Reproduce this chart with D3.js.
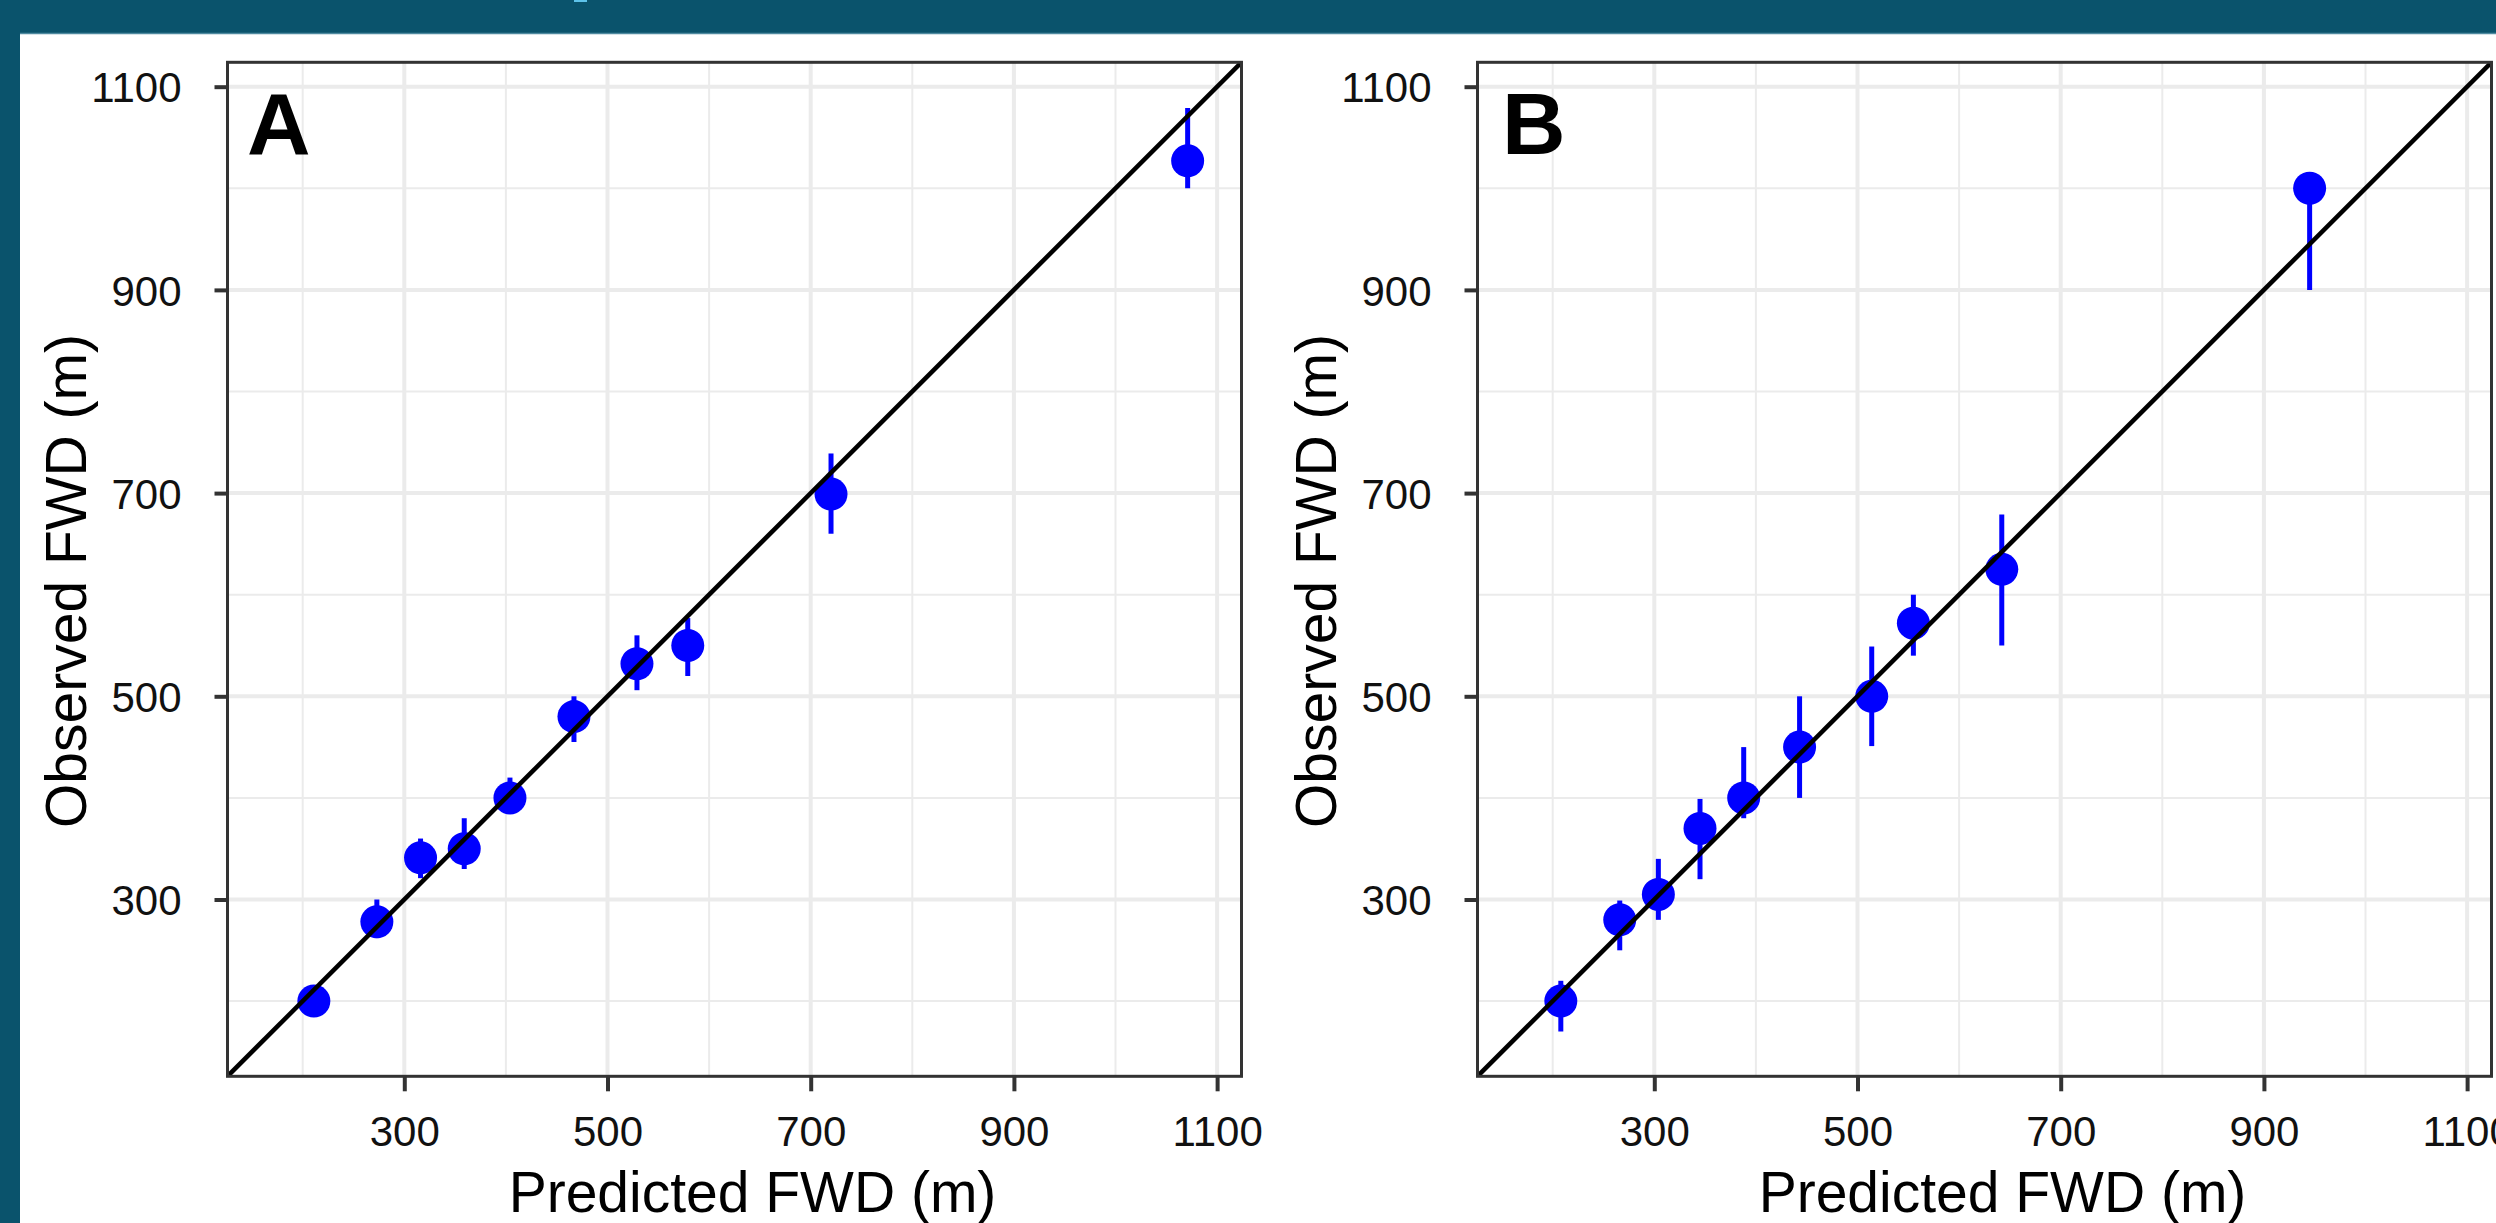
<!DOCTYPE html>
<html>
<head>
<meta charset="utf-8">
<script src="https://cdn.jsdelivr.net/npm/d3@7"></script>
<style>
  html, body { margin: 0; padding: 0; background: #0a536c; overflow: hidden; }
  svg { display: block; }
  text { font-family: "Liberation Sans", Arial, Helvetica, sans-serif; }
</style>
</head>
<body>
<svg id="chart" width="2496" height="1223"></svg>
<script>
// ---- data ----
const panelLabels = ["A", "B"];
const xTicks = [300, 500, 700, 900, 1100];
const yTicks = [300, 500, 700, 900, 1100];
const minorTicks = [200, 400, 600, 800, 1000];
const axisDomain = [126, 1124];
const xTitle = "Predicted FWD (m)";
const yTitle = "Observed FWD (m)";

const predA = [211, 273, 316, 359, 404, 467, 529, 579, 720, 1071];
const obsA  = [200, 278, 341, 350, 400, 480, 532, 550, 699, 1027];
const loA   = [196, 262, 321, 330, 385, 455, 506, 520, 660, 1000];
const hiA   = [204, 300, 360, 380, 420, 500, 560, 577, 739, 1079];

const predB = [208, 266, 304, 345, 388, 443, 514, 555, 642, 945];
const obsB  = [200, 280, 305, 370, 400, 450, 500, 572, 625, 1000];
const loB   = [170, 250, 280, 320, 380, 400, 451, 540, 550, 900];
const hiB   = [220, 299, 340, 399, 450, 500, 549, 600, 679, 1000];

// ---- layout ----
const W = 2496, H = 1223;
const svg = d3.select("#chart");
const panelSize = 1014;
const panels = [
  { label: panelLabels[0], left: 227.5, top: 62.3, pred: predA, obs: obsA, lo: loA, hi: hiA, labelX: 247 },
  { label: panelLabels[1], left: 1477.5, top: 62.3, pred: predB, obs: obsB, lo: loB, hi: hiB, labelX: 1502 }
];

// page frame
svg.append("rect").attr("x", 0).attr("y", 0).attr("width", W).attr("height", H).attr("fill", "#0a536c");
svg.append("rect").attr("x", 20).attr("y", 34).attr("width", W - 20).attr("height", H - 34).attr("fill", "#ffffff");
svg.append("line").attr("x1", 20).attr("x2", W).attr("y1", 33.5).attr("y2", 33.5)
  .attr("stroke", "#4f8aa0").attr("stroke-width", 1.5);
svg.append("rect").attr("x", 574).attr("y", 0).attr("width", 13).attr("height", 2).attr("fill", "#5ec3ea");

const x = d3.scaleLinear().domain(axisDomain).range([0, panelSize]);
const y = d3.scaleLinear().domain(axisDomain).range([panelSize, 0]);
const fmt = d3.format("d");

panels.forEach((p, i) => {
  const g = svg.append("g").attr("transform", `translate(${p.left},${p.top})`);
  const clipId = "clip" + i;
  g.append("clipPath").attr("id", clipId)
    .append("rect").attr("x", 0).attr("y", 0).attr("width", panelSize).attr("height", panelSize);

  g.append("rect").attr("width", panelSize).attr("height", panelSize).attr("fill", "#ffffff");

  // minor grid
  const grid = g.append("g");
  grid.selectAll(".vmin").data(minorTicks).join("line")
    .attr("x1", d => x(d)).attr("x2", d => x(d)).attr("y1", 0).attr("y2", panelSize)
    .attr("stroke", "#ebebeb").attr("stroke-width", 2);
  grid.selectAll(".hmin").data(minorTicks).join("line")
    .attr("y1", d => y(d)).attr("y2", d => y(d)).attr("x1", 0).attr("x2", panelSize)
    .attr("stroke", "#ebebeb").attr("stroke-width", 2);
  // major grid
  grid.selectAll(".vmaj").data(xTicks).join("line")
    .attr("x1", d => x(d)).attr("x2", d => x(d)).attr("y1", 0).attr("y2", panelSize)
    .attr("stroke", "#ebebeb").attr("stroke-width", 4);
  grid.selectAll(".hmaj").data(yTicks).join("line")
    .attr("y1", d => y(d)).attr("y2", d => y(d)).attr("x1", 0).attr("x2", panelSize)
    .attr("stroke", "#ebebeb").attr("stroke-width", 4);

  const plot = g.append("g").attr("clip-path", `url(#${clipId})`);
  const rows = p.pred.map((v, k) => ({ pred: v, obs: p.obs[k], lo: p.lo[k], hi: p.hi[k] }));

  // error bars
  plot.selectAll(".err").data(rows).join("line")
    .attr("x1", d => x(d.pred)).attr("x2", d => x(d.pred))
    .attr("y1", d => y(d.lo)).attr("y2", d => y(d.hi))
    .attr("stroke", "#0000ff").attr("stroke-width", 5);
  // points
  plot.selectAll(".pt").data(rows).join("circle")
    .attr("cx", d => x(d.pred)).attr("cy", d => y(d.obs)).attr("r", 16.5)
    .attr("fill", "#0000ff");
  // 1:1 line
  plot.append("line")
    .attr("x1", x(axisDomain[0])).attr("y1", y(axisDomain[0]))
    .attr("x2", x(axisDomain[1])).attr("y2", y(axisDomain[1]))
    .attr("stroke", "#000000").attr("stroke-width", 4.5);

  // panel label
  g.append("text")
    .attr("x", p.labelX - p.left).attr("y", 154 - p.top)
    .attr("font-size", 88).attr("font-weight", "bold").attr("fill", "#000")
    .text(p.label);

  // axes
  const xAxis = g.append("g").attr("transform", `translate(0,${panelSize})`)
    .call(d3.axisBottom(x).tickValues(xTicks).tickFormat(fmt).tickSize(15).tickPadding(25).tickSizeOuter(0));
  const yAxis = g.append("g")
    .call(d3.axisLeft(y).tickValues(yTicks).tickFormat(fmt).tickSize(13).tickPadding(33).tickSizeOuter(0));
  [xAxis, yAxis].forEach(a => {
    a.select(".domain").remove();
    a.selectAll(".tick line").attr("stroke", "#333333").attr("stroke-width", 4);
    a.selectAll(".tick text").attr("font-size", 42).attr("fill", "#111111")
      .attr("font-family", "'Liberation Sans', Arial, sans-serif");
  });
  yAxis.selectAll(".tick text").attr("dy", "0.36em");

  // border
  g.append("rect").attr("width", panelSize).attr("height", panelSize)
    .attr("fill", "none").attr("stroke", "#333333").attr("stroke-width", 3);

  // axis titles
  g.append("text")
    .attr("x", panelSize / 2 + 18).attr("y", 1211.7 - p.top)
    .attr("text-anchor", "middle").attr("font-size", 57).attr("fill", "#000")
    .text(xTitle);
  g.append("text")
    .attr("transform", `translate(${86 - 227.5},${581 - p.top}) rotate(-90)`)
    .attr("text-anchor", "middle").attr("font-size", 57).attr("fill", "#000")
    .text(yTitle);
});
</script>
</body>
</html>
